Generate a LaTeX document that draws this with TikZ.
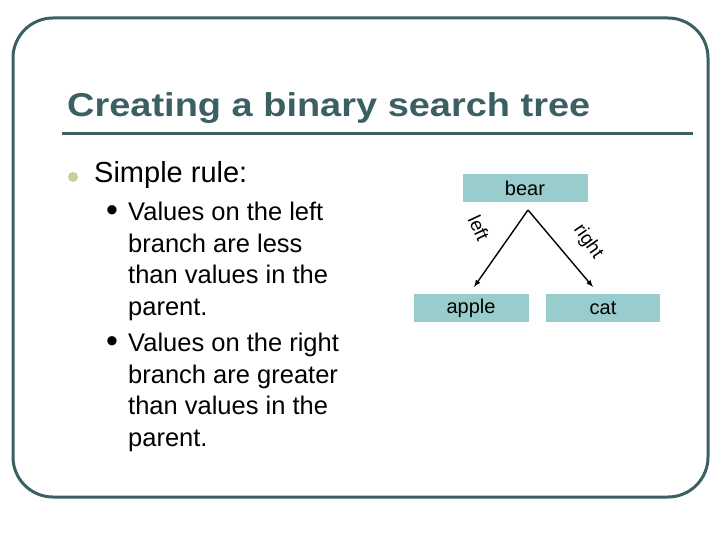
\documentclass[tikz,border=0pt]{standalone}
\usepackage{fontspec}
\setmainfont{Liberation Sans}
\usetikzlibrary{positioning}
\definecolor{slate}{HTML}{3B5F63}
\definecolor{teal}{HTML}{99CCCC}
\definecolor{olive}{HTML}{CCCC99}
\tikzset{
	treebox/.style={fill=teal, minimum height=28pt, inner sep=0pt, font=\fontsize{20}{22}\selectfont},
	edgelabel/.style={font=\fontsize{19}{21}\selectfont, inner sep=0pt},
	bodytext/.style={anchor=north west, align=left, inner sep=0pt, font=\fontsize{25.5}{31.5}\selectfont},
	subdot/.style={font=\fontsize{34}{36}\selectfont, inner sep=0pt}
}
\begin{document}
\begin{tikzpicture}[x=1pt,y=-1pt]
	\useasboundingbox (0,0) rectangle (720,540);
	\draw[slate, line width=3pt, rounded corners=40pt] (13,18) rectangle (708,497);
	\node(title)[anchor=west, slate, xscale=1.15, font=\fontsize{33}{38}\selectfont\bfseries, inner sep=0pt] at (67,108) {Creating a binary search tree};
	\draw[slate, line width=3pt] (62,134) -- (693,134);

	% bullets
	\fill[olive] (73,177) circle (5pt);
	\node(rule)[anchor=west, inner sep=0pt, font=\fontsize{29}{32}\selectfont] at (94,175) {Simple rule:};
	\node(dot1)[subdot] at (112,214) {•};
	\node(dot2)[subdot] at (112,345) {•};
	\node(less)[bodytext] at (128,202) {Values on the left\\branch are less\\than values in the\\parent.};
	\node(greater)[bodytext] at (128,333) {Values on the right\\branch are greater\\than values in the\\parent.};

	% tree
	\node(bear)[treebox, minimum width=125pt] at (525,188) {bear};
	\node(apple)[treebox, minimum width=115pt] at (471,308) {apple};
	\node(cat)[treebox, minimum width=114pt] at (603,308) {cat};
	\coordinate(top) at (528,210);
	\coordinate(lefttip) at (474,287);
	\coordinate(righttip) at (593,287);
	\draw[->, >=latex, line width=1.4pt] (top) -- (lefttip);
	\draw[->, >=latex, line width=1.4pt] (top) -- (righttip);
	\node(leftlbl)[edgelabel, rotate=-65] at (479,228) {left};
	\node(rightlbl)[edgelabel, rotate=-55] at (588,242) {right};
\end{tikzpicture}
\end{document}
